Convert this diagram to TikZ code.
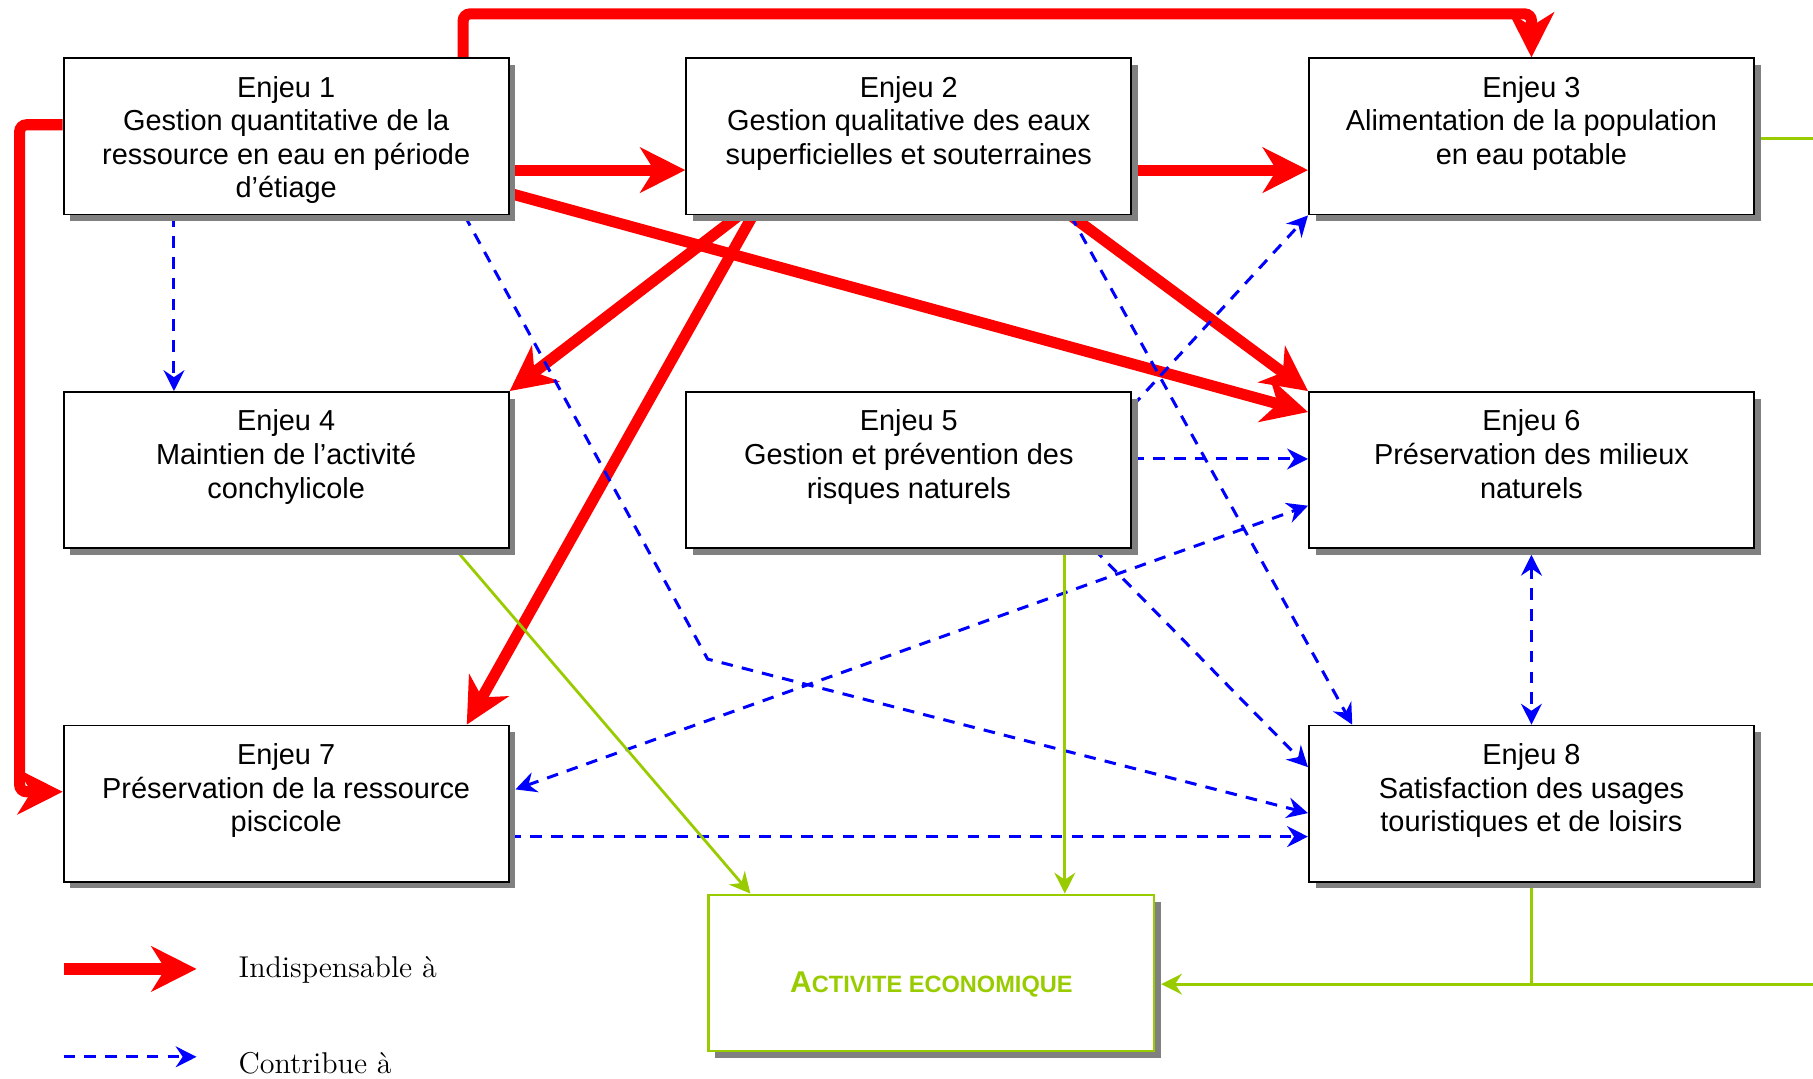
\documentclass[tikz,border=0pt]{standalone}
\usepackage{fontspec}
\newfontfamily\arial{Liberation Sans}
\usetikzlibrary{arrows.meta,shadows,calc}
\pgfdeclarelayer{background}
\pgfsetlayers{background,main}
\definecolor{vert}{HTML}{99CC00}
\definecolor{ombre}{HTML}{808080}
\begin{document}
\begin{tikzpicture}[x=0.5pt, y=-0.5pt,
  box/.style={draw=black, line width=0.8pt, fill=white, minimum width=192.5pt, minimum height=67.5pt, inner sep=0pt,
    drop shadow={shadow xshift=2.9pt, shadow yshift=-2.9pt, fill=ombre, opacity=1}},
  txt/.style={font=\arial\fontsize{12.5}{14.5}\selectfont, align=center, inner sep=0pt, anchor=north},
  indisp/.style={draw=red, line width=4.8pt, rounded corners=3pt, -{Stealth[length=19.5pt,width=19.5pt,inset=6pt]}},
  contrib/.style={draw=blue, line width=1.3pt, dash pattern=on 5pt off 4pt, -{Stealth[length=9pt,width=9pt,inset=3pt]}},
  contribb/.style={contrib, {Stealth[length=9pt,width=9pt,inset=3pt]}-{Stealth[length=9pt,width=9pt,inset=3pt]}},
  eco/.style={draw=vert, line width=1.2pt, -{Stealth[length=9pt,width=9pt,inset=3pt]}},
  ecoline/.style={draw=vert, line width=1.2pt},
  legtxt/.style={anchor=base west, inner sep=0pt, font=\fontsize{13}{15}\selectfont}
]
\useasboundingbox (0,0) rectangle (1568,933);

% boxes
\node[box] (e1) at (247.5,118) {};
\node[box] (e2) at (786,118) {};
\node[box] (e3) at (1324.5,118) {};
\node[box] (e4) at (247.5,406.5) {};
\node[box] (e5) at (786,406.5) {};
\node[box] (e6) at (1324.5,406.5) {};
\node[box] (e7) at (247.5,695) {};
\node[box] (e8) at (1324.5,695) {};
\node[box, draw=vert, line width=1.2pt] (act) at (805.5,841.5) {};

\node[txt] (t1) at ($(e1.north)+(0,16)$) {Enjeu 1\\Gestion quantitative de la\\ressource en eau en période\\d’étiage};
\node[txt] (t2) at ($(e2.north)+(0,16)$) {Enjeu 2\\Gestion qualitative des eaux\\superficielles et souterraines};
\node[txt] (t3) at ($(e3.north)+(0,16)$) {Enjeu 3\\Alimentation de la population\\en eau potable};
\node[txt] (t4) at ($(e4.north)+(0,16)$) {Enjeu 4\\Maintien de l’activité\\conchylicole};
\node[txt] (t5) at ($(e5.north)+(0,16)$) {Enjeu 5\\Gestion et prévention des\\risques naturels};
\node[txt] (t6) at ($(e6.north)+(0,16)$) {Enjeu 6\\Préservation des milieux\\naturels};
\node[txt] (t7) at ($(e7.north)+(0,16)$) {Enjeu 7\\Préservation de la ressource\\piscicole};
\node[txt] (t8) at ($(e8.north)+(0,16)$) {Enjeu 8\\Satisfaction des usages\\touristiques et de loisirs};
\node[font=\arial\bfseries, text=vert, inner sep=0pt] (tact) at ($(act.center)+(0,9.5)$)
  {\fontsize{13}{15}\selectfont A\fontsize{10.2}{12}\selectfont CTIVITE ECONOMIQUE};

% helper coordinates
\coordinate (ctop) at (0,12);
\coordinate (cleft) at (17,0);
\coordinate (cright) at (1600,0);
\coordinate (cbend) at (612,570);

\begin{pgfonlayer}{background}
% red: indispensable
\coordinate (r1s) at ($(e1.north west)!0.896!(e1.north east)$);
\draw[indisp] (r1s) -- (r1s |- ctop) -- (ctop -| e3.north) -- (e3.north);
\coordinate (r2s) at ($(e1.north west)!0.426!(e1.south west)$);
\coordinate (r2e) at ($(e7.north west)!0.425!(e7.south west)$);
\draw[indisp] (r2s) -- (r2s -| cleft) -- (cleft |- r2e) -- (r2e);
\draw[indisp] ($(e1.north east)!0.713!(e1.south east)$) -- ($(e2.north west)!0.713!(e2.south west)$);
\draw[indisp] ($(e2.north east)!0.713!(e2.south east)$) -- ($(e3.north west)!0.713!(e3.south west)$);
\draw[indisp] ($(e1.north east)!0.86!(e1.south east)$) -- ($(e6.north west)!0.133!(e6.south west)$);
\draw[indisp] ($(e2.south west)!0.862!(e2.south east)$) -- (e6.north west);
\draw[indisp] ($(e2.south west)!0.12!(e2.south east)$) -- (e4.north east);
\draw[indisp] ($(e2.south west)!0.151!(e2.south east)$) -- ($(e7.north west)!0.904!(e7.north east)$);

% blue: contribue
\draw[contrib] ($(e1.south west)!0.249!(e1.south east)$) -- ($(e4.north west)!0.249!(e4.north east)$);
\draw[contrib] ($(e1.south west)!0.899!(e1.south east)$) -- (cbend) -- ($(e8.north west)!0.56!(e8.south west)$);
\draw[contrib] ($(e2.south west)!0.862!(e2.south east)$) -- ($(e8.north west)!0.099!(e8.north east)$);
\draw[contrib] ($(e5.north east)!0.096!(e5.south east)$) -- (e3.south west);
\draw[contrib] ($(e5.north east)!0.43!(e5.south east)$) -- ($(e6.north west)!0.43!(e6.south west)$);
\draw[contribb] ($(e7.north east)!0.41!(e7.south east)+(5,0)$) -- ($(e6.north west)!0.726!(e6.south west)$);
\draw[contrib] ($(e5.south west)!0.914!(e5.south east)$) -- ($(e8.north west)!0.269!(e8.south west)$);
\draw[contrib] ($(e7.north east)!0.709!(e7.south east)$) -- ($(e8.north west)!0.709!(e8.south west)$);
\draw[contribb] ($(e6.south)+(0,5)$) -- (e8.north);

% green: activite economique
\draw[eco] ($(e4.south west)!0.878!(e4.south east)$) -- ($(act.north west)!0.096!(act.north east)$);
\coordinate (g2s) at ($(e5.south west)!0.849!(e5.south east)$);
\draw[eco] (g2s) -- (g2s |- act.north);
\coordinate (qa) at ($(act.north east)!0.57!(act.south east)+(5,0)$);
\draw[eco] (e8.south) -- (e8.south |- qa) -- (qa);
\coordinate (g4s) at ($(e3.north east)!0.515!(e3.south east)$);
\draw[ecoline] (g4s) -- (g4s -| cright) -- (cright |- qa) -- (e8.south |- qa);
\end{pgfonlayer}

% legend
\coordinate (l1a) at (55,838);
\coordinate (l1b) at (170,838);
\draw[indisp] (l1a) -- (l1b);
\node[legtxt] (leg1) at (206,845) {Indispensable à};
\coordinate (l2a) at (55,914);
\coordinate (l2b) at (170,914);
\draw[contrib] (l2a) -- (l2b);
\node[legtxt] (leg2) at (206,928) {Contribue à};
\end{tikzpicture}
\end{document}
